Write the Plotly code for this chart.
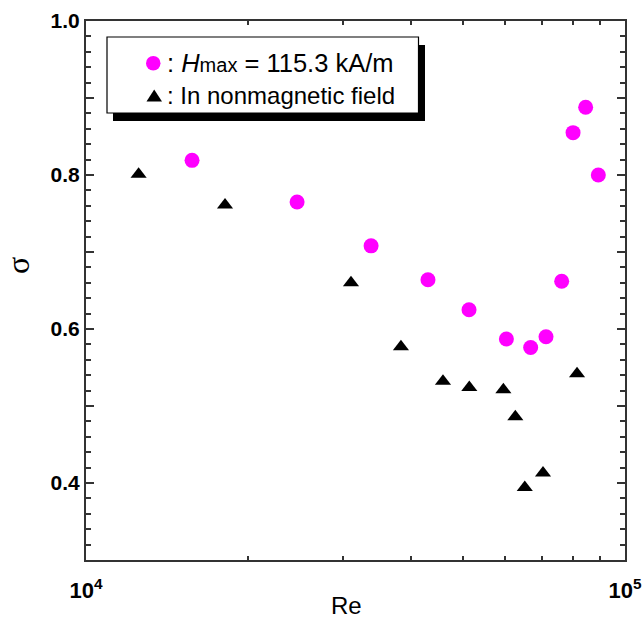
import plotly.graph_objects as go

# Data
mag_re = [15730, 24640, 33800, 43100, 51360, 60250, 66830, 71360, 76300, 80100, 84530, 89230]
mag_sigma = [0.819, 0.765, 0.708, 0.664, 0.625, 0.587, 0.576, 0.590, 0.662, 0.855, 0.888, 0.800]

tri_re = [12520, 18110, 31020, 38400, 45950, 51420, 59480, 62590, 65170, 70450, 81470]
tri_sigma = [0.801, 0.761, 0.660, 0.577, 0.532, 0.524, 0.521, 0.486, 0.394, 0.413, 0.542]

x_tickvals = [1e4, 1e5]
x_ticktext = ["10<sup>4</sup>", "10<sup>5</sup>"]
x_minor = [2e4, 3e4, 4e4, 5e4, 6e4, 7e4, 8e4, 9e4]
y_tickvals = [0.3, 0.4, 0.5, 0.6, 0.7, 0.8, 0.9, 1.0]
y_ticktext = ["", "0.4", "", "0.6", "", "0.8", "", "1.0"]

W, H = 643, 618
L, R, T, B = 86, 18, 21, 58
pw, ph = W - L - R, H - T - B


def px(x):
    return (x - L) / pw


def py(y):
    return (H - B - y) / ph


fig = go.Figure()
fig.add_trace(go.Scatter(
    x=mag_re, y=mag_sigma, mode="markers",
    marker=dict(symbol="circle", size=15, color="#ff00ff", line=dict(width=0)),
    showlegend=False,
))
fig.add_trace(go.Scatter(
    x=tri_re, y=tri_sigma, mode="markers",
    marker=dict(symbol="triangle-up", size=14, color="black", line=dict(width=0)),
    showlegend=False,
))

axis_common = dict(
    showline=True, linecolor="#333333", linewidth=2, mirror="allticks",
    ticks="inside", tickcolor="#333333", tickwidth=1.5,
    showgrid=False, zeroline=False, automargin=False,
)

fig.update_xaxes(
    type="log", range=[4, 5],
    tickmode="array", tickvals=x_tickvals, ticktext=x_ticktext, ticklen=6,
    ticklabelstandoff=10,
    tickfont=dict(family="Liberation Sans", size=22, color="black", weight="bold"),
    minor=dict(tickmode="array", tickvals=x_minor, ticks="inside", ticklen=4,
               tickcolor="#333333", tickwidth=1.5, showgrid=False),
    **axis_common,
)
fig.update_yaxes(
    range=[0.3, 1.0],
    tickmode="array", tickvals=y_tickvals, ticktext=y_ticktext, ticklen=8,
    tickfont=dict(family="Liberation Sans", size=21, color="black", weight="bold"),
    minor=dict(dtick=0.02, ticks="inside", ticklen=5,
               tickcolor="#333333", tickwidth=1.5, showgrid=False),
    **axis_common,
)

shapes = [
    # legend shadow
    dict(type="rect", xref="paper", yref="paper",
         x0=px(113), x1=px(425), y0=py(121), y1=py(45),
         fillcolor="black", line=dict(width=0)),
    # legend box
    dict(type="rect", xref="paper", yref="paper",
         x0=px(107), x1=px(418.5), y0=py(113), y1=py(37),
         fillcolor="white", line=dict(color="black", width=1.2)),
    # legend circle symbol
    dict(type="circle", xref="paper", yref="paper",
         x0=px(146), x1=px(160.5), y0=py(70.5), y1=py(56),
         fillcolor="#ff00ff", line=dict(width=0)),
    # legend triangle symbol
    dict(type="path", xref="paper", yref="paper",
         path="M {a},{b} L {c},{b} L {d},{e} Z".format(
             a=px(146.5), b=py(101.5), c=px(162), d=px(154.2), e=py(89.5)),
         fillcolor="black", line=dict(width=0)),
]

annotations = [
    dict(xref="paper", yref="paper", x=px(165), y=py(63.5), xanchor="left", yanchor="middle",
         text=": <i>H</i><span style='font-size:20px'>max</span> = 115.3 kA/m", showarrow=False,
         font=dict(family="Liberation Sans", size=25.5, color="black")),
    dict(xref="paper", yref="paper", x=px(165), y=py(96), xanchor="left", yanchor="middle",
         text=": In nonmagnetic field", showarrow=False,
         font=dict(family="Liberation Sans", size=24, color="black")),
    dict(xref="paper", yref="paper", x=px(346), y=py(605.5), xanchor="center", yanchor="middle",
         text="Re", showarrow=False,
         font=dict(family="Liberation Sans", size=24, color="black")),
    dict(xref="paper", yref="paper", x=px(18), y=py(266), xanchor="center", yanchor="middle",
         text="σ", textangle=-90, showarrow=False,
         font=dict(family="Liberation Serif", size=32, color="black")),
]

fig.update_layout(
    width=W, height=H,
    margin=dict(l=L, r=R, t=T, b=B),
    paper_bgcolor="white", plot_bgcolor="white",
    shapes=shapes, annotations=annotations,
    showlegend=False,
)

fig.write_html("out.html")
